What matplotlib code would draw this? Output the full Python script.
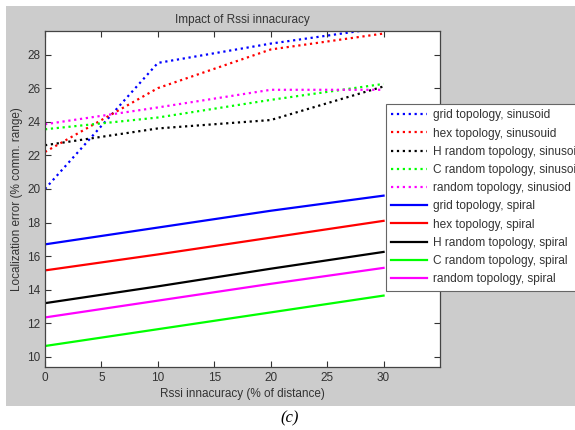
import matplotlib.pyplot as plt
from matplotlib.patches import Rectangle

# x positions of the measurements (% of distance)
rssi = [0, 10, 20, 30]

# sinusoid trajectories (dotted)
grid_sin = [20.0, 27.5, 28.65, 29.6]
hex_sin = [22.2, 26.0, 28.3, 29.25]
hrand_sin = [22.6, 23.6, 24.1, 26.1]
crand_sin = [23.55, 24.25, 25.3, 26.25]
rand_sin = [23.85, 24.85, 25.9, 25.9]

# spiral trajectories (solid)
grid_sp = [16.7, 17.7, 18.7, 19.6]
hex_sp = [15.15, 16.1, 17.1, 18.1]
hrand_sp = [13.2, 14.2, 15.25, 16.25]
crand_sp = [10.65, 11.65, 12.65, 13.65]
rand_sp = [12.35, 13.35, 14.35, 15.3]

W, H = 575, 430
fig = plt.figure(figsize=(W / 100, H / 100), dpi=100)
fig.patch.set_facecolor("white")
plt.rcParams["font.family"] = ["Liberation Sans", "DejaVu Sans"]

# grey MATLAB-like figure panel
fig.patches.append(Rectangle((6 / W, 1 - 406 / H), 1, 400 / H,
                             transform=fig.transFigure, facecolor="#cccccc",
                             edgecolor="none", zorder=-10))

ax = fig.add_axes([45 / W, 1 - 367 / H, 395 / W, 336 / H])
ax.set_facecolor("white")

ax.plot(rssi, grid_sin, ":", color=(0, 0, 1), lw=1.6, label="grid topology, sinusoid")
ax.plot(rssi, hex_sin, ":", color=(1, 0, 0), lw=1.6, label="hex topology, sinusouid")
ax.plot(rssi, hrand_sin, ":", color="black", lw=1.6, label="H random topology, sinusoid")
ax.plot(rssi, crand_sin, ":", color=(0, 1, 0), lw=1.6, label="C random topology, sinusoid")
ax.plot(rssi, rand_sin, ":", color=(1, 0, 1), lw=1.6, label="random topology, sinusiod")
ax.plot(rssi, grid_sp, "-", color=(0, 0, 1), lw=1.6, label="grid topology, spiral")
ax.plot(rssi, hex_sp, "-", color=(1, 0, 0), lw=1.6, label="hex topology, spiral")
ax.plot(rssi, hrand_sp, "-", color="black", lw=1.6, label="H random topology, spiral")
ax.plot(rssi, crand_sp, "-", color=(0, 1, 0), lw=1.6, label="C random topology, spiral")
ax.plot(rssi, rand_sp, "-", color=(1, 0, 1), lw=1.6, label="random topology, spiral")

ax.set_xlim(0, 35)
ax.set_ylim(9.4, 29.4)
ax.set_xticks([0, 5, 10, 15, 20, 25, 30])
ax.set_yticks([10, 12, 14, 16, 18, 20, 22, 24, 26, 28])
ax.tick_params(direction="in", top=True, right=True, labelsize=8.5,
               colors="#333333", length=4, width=0.8)
for s in ax.spines.values():
    s.set_color("#444444")
    s.set_linewidth(0.9)

ax.set_title("Impact of Rssi innacuracy", fontsize=8.5, color="#333333", pad=6)
ax.set_xlabel("Rssi innacuracy (% of distance)", fontsize=8.5, color="#333333", labelpad=3)
ax.set_ylabel("Localization error (% comm. range)", fontsize=8.5, color="#333333", labelpad=3)

leg = ax.legend(loc="upper left", bbox_to_anchor=(386 / W, 1 - 104 / H),
                bbox_transform=fig.transFigure, borderaxespad=0, fontsize=8.6,
                handlelength=3.0, handletextpad=0.5, labelspacing=0.52,
                borderpad=0.45, fancybox=False, framealpha=1)
leg.get_frame().set_edgecolor("#666666")
leg.get_frame().set_linewidth(0.8)
for t in leg.get_texts():
    t.set_color("#333333")

fig.text(290 / W, 1 - 418 / H, "(c)", fontsize=12, style="italic",
         family=["Liberation Serif", "DejaVu Serif"], ha="center", va="center")

fig.savefig("out.png", dpi=100, facecolor=fig.get_facecolor())
